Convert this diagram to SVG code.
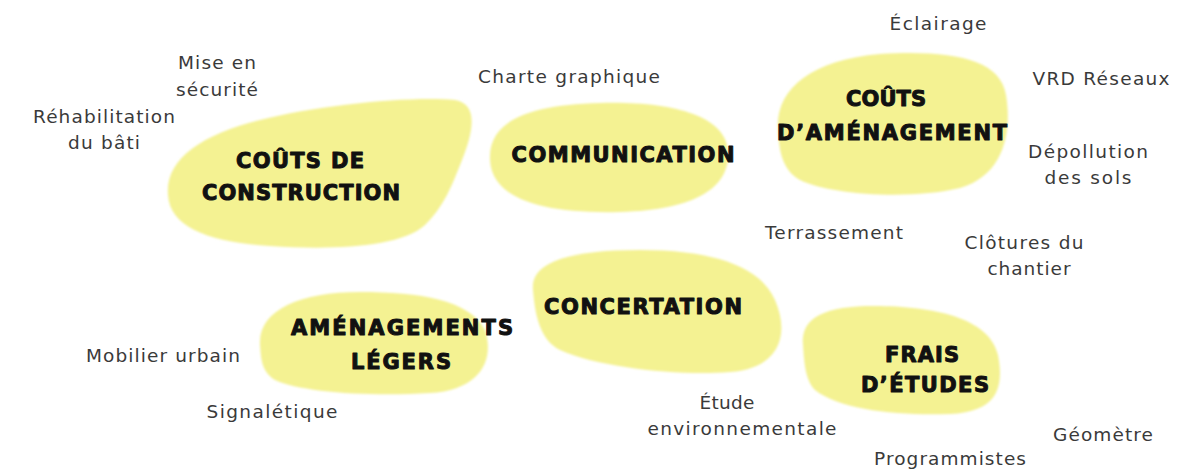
<svg xmlns="http://www.w3.org/2000/svg" width="1202" height="470" viewBox="0 0 1202 470">
<defs>
<filter id="soft" x="-5%" y="-5%" width="110%" height="110%"><feGaussianBlur stdDeviation="1.2"/></filter>
<style>
.blob{fill:#f4f292;filter:url(#soft)}
.t{font-family:"DejaVu Sans",sans-serif;font-weight:700;font-size:21px;fill:#111;stroke:#111;stroke-width:1;stroke-linejoin:round;text-anchor:middle}
.l{font-family:"DejaVu Sans",sans-serif;font-weight:400;font-size:18.5px;fill:#3a3a3a;text-anchor:middle}
</style>
</defs>
<rect width="1202" height="470" fill="#ffffff"/>
<g id="connectors"></g>
<g id="node-construction">
<path class="blob" d="M168,195 C165,160 200,135 260,120 C320,105 410,96 455,100 C478,104 474,130 462,160 C452,185 445,205 425,225 C400,248 330,250 270,246 C210,242 170,228 168,195 Z"/>
<text class="t" x="300" y="168" textLength="128" lengthAdjust="spacing">COÛTS DE</text>
<text class="t" x="301" y="200" textLength="198" lengthAdjust="spacing">CONSTRUCTION</text>
</g>
<g id="node-communication">
<path class="blob" d="M490,160 C488,120 530,105 600,103 C670,101 725,115 728,150 C731,185 700,210 620,212 C545,214 492,200 490,160 Z"/>
<text class="t" x="623" y="162" textLength="223" lengthAdjust="spacing">COMMUNICATION</text>
</g>
<g id="node-amenagement">
<path class="blob" d="M778,130 C775,90 810,60 880,54 C950,50 1000,58 1006,95 C1012,130 1005,175 960,188 C910,200 830,195 800,180 C782,170 779,150 778,130 Z"/>
<text class="t" x="886" y="106" textLength="80" lengthAdjust="spacing">COÛTS</text>
<text class="t" x="892" y="140" textLength="230" lengthAdjust="spacing">D’AMÉNAGEMENT</text>
</g>
<g id="node-concertation">
<path class="blob" d="M533,290 C530,262 570,250 640,250 C710,250 760,265 775,300 C790,335 780,368 730,372 C680,376 600,368 560,350 C540,340 535,315 533,290 Z"/>
<text class="t" x="643" y="314" textLength="198" lengthAdjust="spacing">CONCERTATION</text>
</g>
<g id="node-amenagements-legers">
<path class="blob" d="M260,345 C258,310 300,292 360,292 C420,292 470,300 485,330 C495,360 480,390 430,393 C370,397 300,392 275,380 C262,372 261,360 260,345 Z"/>
<text class="t" x="402" y="335" textLength="222" lengthAdjust="spacing">AMÉNAGEMENTS</text>
<text class="t" x="401" y="369" textLength="100" lengthAdjust="spacing">LÉGERS</text>
</g>
<g id="node-frais-etudes">
<path class="blob" d="M803,345 C800,315 830,305 880,306 C940,307 990,320 998,355 C1005,390 995,412 950,414 C900,416 840,410 815,390 C805,380 804,360 803,345 Z"/>
<text class="t" x="922" y="362" textLength="74" lengthAdjust="spacing">FRAIS</text>
<text class="t" x="925" y="392" textLength="128" lengthAdjust="spacing">D’ÉTUDES</text>
</g>
<g id="labels">
<text class="l" x="938" y="30" textLength="97">Éclairage</text>
<text class="l" x="217" y="69" textLength="78">Mise en</text>
<text class="l" x="217" y="96" textLength="82">sécurité</text>
<text class="l" x="569" y="83" textLength="182">Charte graphique</text>
<text class="l" x="1101" y="85" textLength="137">VRD Réseaux</text>
<text class="l" x="104" y="123" textLength="142">Réhabilitation</text>
<text class="l" x="104" y="149" textLength="72">du bâti</text>
<text class="l" x="1088" y="158" textLength="120">Dépollution</text>
<text class="l" x="1088" y="184" textLength="87">des sols</text>
<text class="l" x="834" y="239" textLength="138">Terrassement</text>
<text class="l" x="1024" y="249" textLength="119">Clôtures du</text>
<text class="l" x="1029" y="275" textLength="83">chantier</text>
<text class="l" x="163" y="362" textLength="154">Mobilier urbain</text>
<text class="l" x="272" y="418" textLength="131">Signalétique</text>
<text class="l" x="727" y="409" textLength="55">Étude</text>
<text class="l" x="742" y="435" textLength="189">environnementale</text>
<text class="l" x="1103" y="441" textLength="100">Géomètre</text>
<text class="l" x="950" y="465" textLength="152">Programmistes</text>
</g>
</svg>
